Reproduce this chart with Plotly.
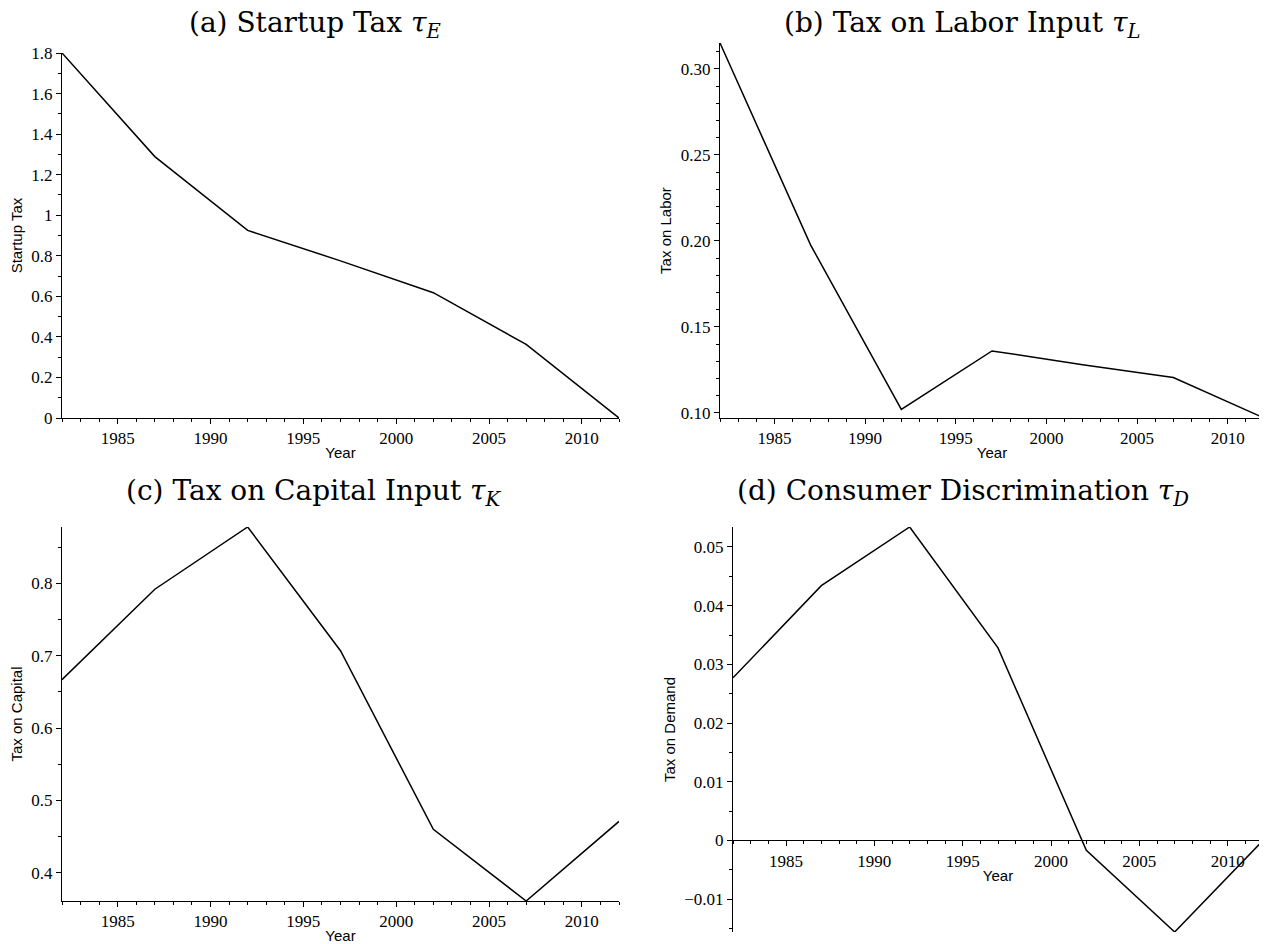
import plotly.graph_objects as go

# data
years = [1982, 1987, 1992, 1997, 2002, 2007, 2012]
startup_tax = [1.80, 1.289, 0.925, 0.775, 0.618, 0.363, 0.0]
labor_tax = [0.315, 0.1975, 0.102, 0.136, 0.128, 0.1205, 0.097]
capital_tax = [0.667, 0.792, 0.878, 0.707, 0.460, 0.361, 0.471]
demand_tax = [0.0277, 0.0434, 0.0534, 0.0328, -0.0017, -0.0156, 0.0]

titles = ['(a) Startup Tax <i>τ</i><sub><i>E</i></sub>',
          '(b) Tax on Labor Input <i>τ</i><sub><i>L</i></sub>',
          '(c) Tax on Capital Input <i>τ</i><sub><i>K</i></sub>',
          '(d) Consumer Discrimination <i>τ</i><sub><i>D</i></sub>']
ytitles = ['Startup Tax', 'Tax on Labor', 'Tax on Capital', 'Tax on Demand']

# the page body adds an 8px margin, so work in page pixels and shift back
OFF = 8
W, H = 1267 - OFF, 944 - OFF
# plot boxes in page pixels: left, right, top, bottom
boxes = [(62, 619, 53, 418), (720, 1264, 43, 418),
         (62, 619, 527, 901), (733, 1263, 527, 932)]
title_pos = [(315, 24), (962, 24), (314, 492), (963, 492)]
ydticks = [0.2, 0.05, 0.1, 0.01]
yminor = [0.1, 0.01, 0.05, 0.005]
yfmt = ['', '.2f', '', '']
series = [startup_tax, labor_tax, capital_tax, demand_tax]

serif = 'Liberation Serif'
sans = 'Liberation Sans'


def px(x, y):
    return (x - OFF) / W, 1 - (y - OFF) / H


fig = go.Figure()
for i, vals in enumerate(series):
    n = '' if i == 0 else str(i + 1)
    l, r, t, b = boxes[i]
    ylo, yhi = min(vals), max(vals)
    x0, y0 = px(l, b)
    x1, y1 = px(r, t)
    xdom, ydom = [x0, min(x1, 1)], [y0, y1]
    fig.add_trace(go.Scatter(x=years, y=vals, mode='lines',
                             line=dict(color='black', width=1.5),
                             xaxis='x' + n, yaxis='y' + n, showlegend=False))
    xax = dict(domain=xdom, range=[1982, 2012], anchor='y' + n,
               showline=True, linecolor='black', linewidth=1,
               ticks='outside', ticklen=5, tickcolor='black', tickwidth=1,
               tick0=1985, dtick=5, showgrid=False, zeroline=False,
               minor=dict(ticks='outside', ticklen=3, dtick=1, tick0=1982,
                          tickcolor='black', showgrid=False),
               tickfont=dict(family=serif, size=17, color='black'),
               title=dict(text='Year', standoff=0,
                          font=dict(family=sans, size=15, color='black')),
               automargin=False)
    if i == 3:
        # x axis drawn through y = 0
        frac = (0 - ylo) / (yhi - ylo)
        xax['anchor'] = 'free'
        xax['position'] = ydom[0] + frac * (ydom[1] - ydom[0])
    yax = dict(domain=ydom, range=[ylo, yhi], anchor='x' + n,
               showline=True, linecolor='black', linewidth=1,
               ticks='outside', ticklen=5, tickcolor='black', tickwidth=1,
               dtick=ydticks[i], tick0=0, tickformat=yfmt[i],
               showgrid=False, zeroline=False,
               minor=dict(ticks='outside', ticklen=3, dtick=yminor[i],
                          tick0=0, tickcolor='black', showgrid=False),
               tickfont=dict(family=serif, size=17, color='black'),
               title=dict(text=ytitles[i], standoff=5,
                          font=dict(family=sans, size=15, color='black')),
               automargin=False)
    fig.update_layout({'xaxis' + n: xax, 'yaxis' + n: yax})
    tx, ty = px(*title_pos[i])
    fig.add_annotation(text=titles[i], x=tx, y=ty,
                       xref='paper', yref='paper', showarrow=False,
                       xanchor='center', yanchor='middle',
                       font=dict(family='DejaVu Serif', size=28, color='black'))

fig.update_layout(width=W, height=H, margin=dict(l=0, r=0, t=0, b=0),
                  plot_bgcolor='white', paper_bgcolor='white')
fig.write_html('out.html')
